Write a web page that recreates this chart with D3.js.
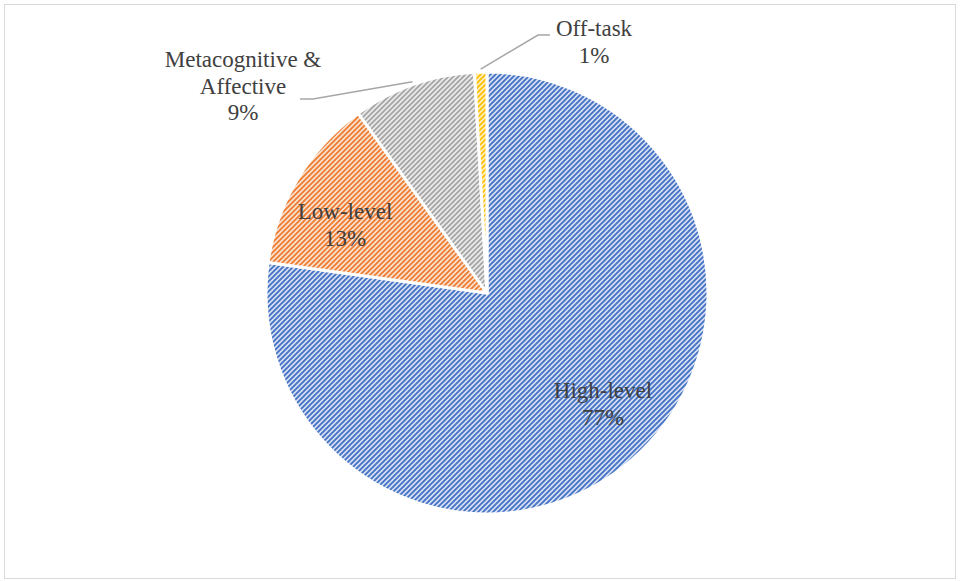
<!DOCTYPE html>
<html><head><meta charset="utf-8">
<script src="https://cdn.jsdelivr.net/npm/d3@7"></script>
<style>body{margin:0;background:#fff}</style>
</head><body><svg id="c" width="960" height="581"></svg>
<script>
// ---- data ----
const categories = ["High-level", "Low-level", "Metacognitive & Affective", "Off-task"];
const values = [77.2, 12.9, 9.0, 0.9];
const labelLines = [["High-level", "77%"], ["Low-level", "13%"], ["Metacognitive &", "Affective", "9%"], ["Off-task", "1%"]];
const fgColors = ["#4472C4", "#ED7D31", "#A5A5A5", "#FFC000"];
const bgColors = ["#D6E0F3", "#FBE2D2", "#ECECEC", "#FFF0C4"];

// ---- layout ----
const W = 960, H = 581;
const cx = 487, cy = 293, R = 221;
// label anchor (centre x, first baseline y) relative to pie centre
const labelAnchor = [[116, 105], [-142, -74], [-244, -226], [107, -257]];
// leader elbow / end relative to pie centre (null = no leader)
const leaderPts = [null, null, [[-174, -194], [-187, -194]], [[51, -258], [63, -258]]];

const svg = d3.select("#c");
svg.append("rect").attr("x", 4.5).attr("y", 4.5).attr("width", 951).attr("height", 574)
  .attr("fill", "#fff").attr("stroke", "#d9d9d9").attr("stroke-width", 1);

const defs = svg.append("defs");
categories.forEach((c, i) => {
  const p = defs.append("pattern").attr("id", "pat" + i)
    .attr("patternUnits", "userSpaceOnUse").attr("width", 5).attr("height", 5);
  p.append("rect").attr("width", 5).attr("height", 5).attr("fill", bgColors[i]);
  p.append("path").attr("d", "M-1,6 L6,-1 M-1,1 L1,-1 M4,6 L6,4")
    .attr("stroke", fgColors[i]).attr("stroke-width", 1.85);
});

const pie = d3.pie().sort(null).value(d => d)(values);
const arc = d3.arc().innerRadius(0).outerRadius(R);
const g = svg.append("g").attr("transform", `translate(${cx},${cy})`);

g.selectAll("path.slice").data(pie).join("path").attr("class", "slice")
  .attr("d", arc)
  .attr("fill", (d, i) => `url(#pat${i})`)
  .attr("stroke", "#fff").attr("stroke-width", 3).attr("stroke-linejoin", "round");

// leader lines
const outer = d3.arc().innerRadius(R + 3).outerRadius(R + 3);
pie.forEach((d, i) => {
  if (!leaderPts[i]) return;
  const s = outer.centroid(d);
  const pts = [s, ...leaderPts[i]];
  g.append("path").attr("d", d3.line()(pts)).attr("fill", "none")
    .attr("stroke", "#a6a6a6").attr("stroke-width", 1.5);
});

// labels
pie.forEach((d, i) => {
  const t = g.append("text").attr("text-anchor", "middle")
    .attr("font-family", "'Liberation Serif','Times New Roman',serif")
    .attr("font-size", 23).attr("fill", "#404040");
  labelLines[i].forEach((ln, k) => {
    t.append("tspan").attr("x", labelAnchor[i][0]).attr("y", labelAnchor[i][1] + k * 26.5).text(ln);
  });
});
</script></body></html>
